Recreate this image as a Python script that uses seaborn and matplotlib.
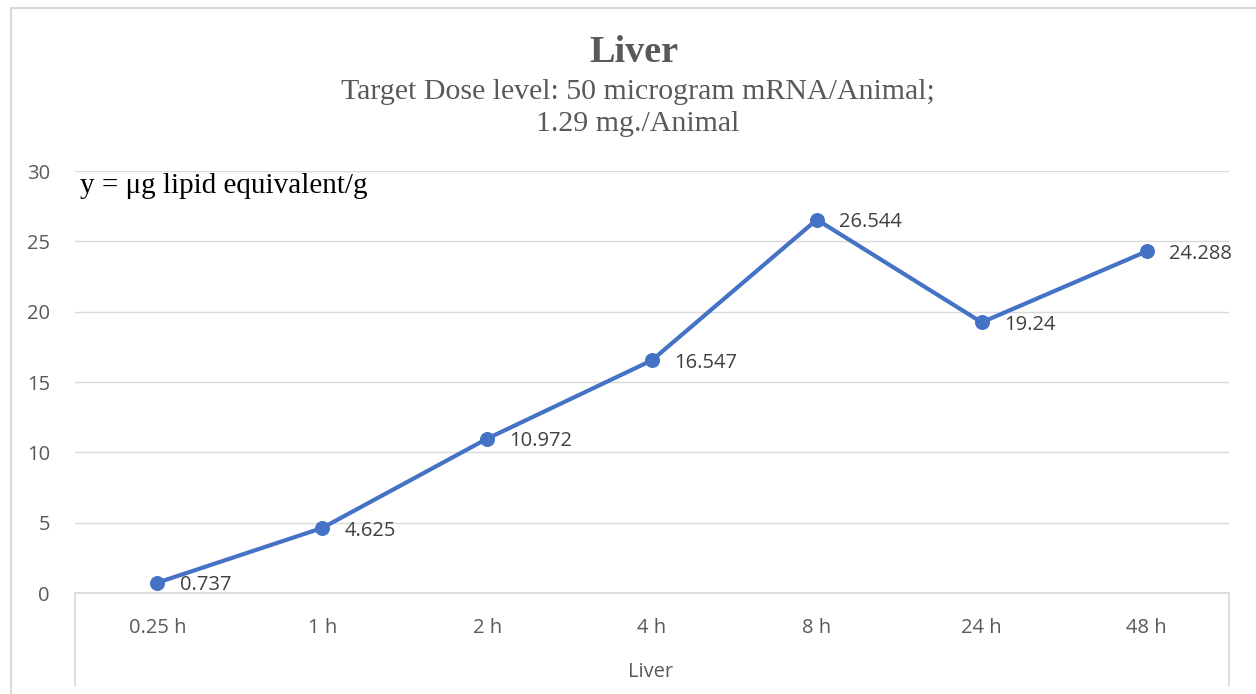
import matplotlib
matplotlib.use("Agg")
import matplotlib.pyplot as plt
import seaborn as sns
import pandas as pd
from matplotlib.lines import Line2D

# data
time_points = ["0.25 h", "1 h", "2 h", "4 h", "8 h", "24 h", "48 h"]
liver_values = [0.737, 4.625, 10.972, 16.547, 26.544, 19.24, 24.288]
y_ticks = [0, 5, 10, 15, 20, 25, 30]

df = pd.DataFrame({"time": time_points, "value": liver_values})

sns.set_theme(style="white")
plt.rcParams["font.family"] = ["Open Sans", "DejaVu Sans"]

fig = plt.figure(figsize=(12.56, 6.94), dpi=100)
ax = fig.add_axes([0.0597, 0.1455, 0.9188, 0.6081])

line_color = "#4472C4"
sns.lineplot(data=df, x="time", y="value", ax=ax, sort=False,
             color=line_color, linewidth=3, marker="o", markersize=10,
             markeredgecolor=line_color)

ax.set_xlim(-0.5, len(time_points) - 0.5)
ax.set_ylim(0, 30)
ax.set_yticks(y_ticks)
ax.yaxis.grid(True, color="#d9d9d9", linewidth=1)
ax.xaxis.grid(False)
for side in ["top", "right", "left"]:
    ax.spines[side].set_visible(False)
ax.spines["bottom"].set_color("#d9d9d9")
ax.spines["bottom"].set_linewidth(1.2)
ax.tick_params(axis="both", length=0, labelsize=14.5, colors="#595959")
ax.tick_params(axis="x", pad=18)
ax.tick_params(axis="y", pad=18)
ax.set_xlabel("")
ax.set_ylabel("")

# data labels to the right of each point
for i, v in enumerate(liver_values):
    ax.annotate(f"{v:g}", (i, v), xytext=(16, -2), textcoords="offset points",
                fontsize=14.5, color="#404040", ha="left", va="center")

# category axis frame lines below the plot (Excel style)
for xf in [0.0597, 0.9785]:
    fig.add_artist(Line2D([xf, xf], [0.1455, 0.012], color="#d9d9d9", lw=1.2))
fig.text(0.518, 0.032, "Liver", ha="center", va="center", fontsize=14.5, color="#595959")

# outer chart border
fig.add_artist(Line2D([0.0088, 0.0088], [0.0, 0.988], color="#d9d9d9", lw=1.5))
fig.add_artist(Line2D([0.0088, 1.0], [0.988, 0.988], color="#d9d9d9", lw=1.5))

# titles
fig.text(0.505, 0.925, "Liver", ha="center", va="center", fontsize=27.5,
         fontweight="bold", family="Liberation Serif", color="#595959")
fig.text(0.508, 0.868, "Target Dose level: 50 microgram mRNA/Animal;", ha="center",
         va="center", fontsize=21.5, family="Liberation Serif", color="#595959")
fig.text(0.508, 0.821, "1.29 mg./Animal", ha="center", va="center", fontsize=21.5,
         family="Liberation Serif", color="#595959")

ax.text(0.004, 0.965, "y = \u03bcg lipid equivalent/g", transform=ax.transAxes,
        ha="left", va="center", fontsize=21, family="Liberation Serif", color="black")

fig.savefig("out.png", dpi=100)
